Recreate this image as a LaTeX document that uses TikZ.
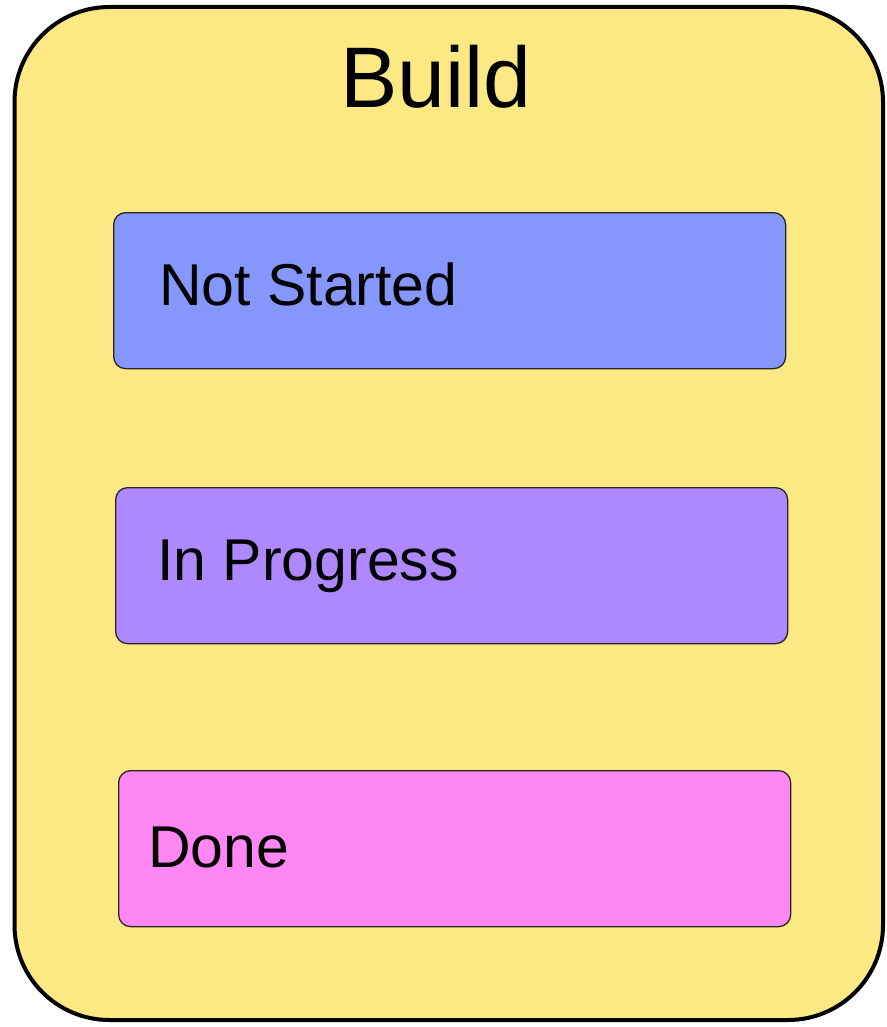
\documentclass[tikz,border=0pt]{standalone}
\usepackage{fontspec}
\setmainfont{Liberation Sans}
\definecolor{buildyellow}{HTML}{FDE984}
\definecolor{nsblue}{HTML}{8596FC}
\definecolor{ippurple}{HTML}{AD88FF}
\definecolor{donepink}{HTML}{FF87F3}
\tikzset{
  outerbox/.style={draw=black, line width=4pt, fill=buildyellow, rounded corners=95pt},
  statebox/.style={draw=black!85, line width=1.3pt, rounded corners=12pt, rectangle, anchor=north west, minimum width=672pt, minimum height=156pt, inner sep=0pt},
  statelabel/.style={anchor=base west, inner sep=0pt, font=\fontsize{59}{62}\selectfont},
  titlelabel/.style={anchor=base, inner sep=0pt, font=\fontsize{86}{90}\selectfont}
}
\begin{document}
\begin{tikzpicture}[x=1pt,y=1pt]
\useasboundingbox (0,0) rectangle (886,-1027);
\draw[outerbox] (14.5,-7) rectangle (883,-1020);
\node[titlelabel] (title) at (436,-108) {Build};
\node[statebox, fill=nsblue] (ns) at (113,-212) {};
\node[statelabel] (nslbl) at (159,-305) {Not Started};
\node[statebox, fill=ippurple] (ip) at (115,-487) {};
\node[statelabel] (iplbl) at (157,-580) {In Progress};
\node[statebox, fill=donepink] (dn) at (118,-770) {};
\node[statelabel] (dnlbl) at (148,-867) {Done};
\end{tikzpicture}
\end{document}
